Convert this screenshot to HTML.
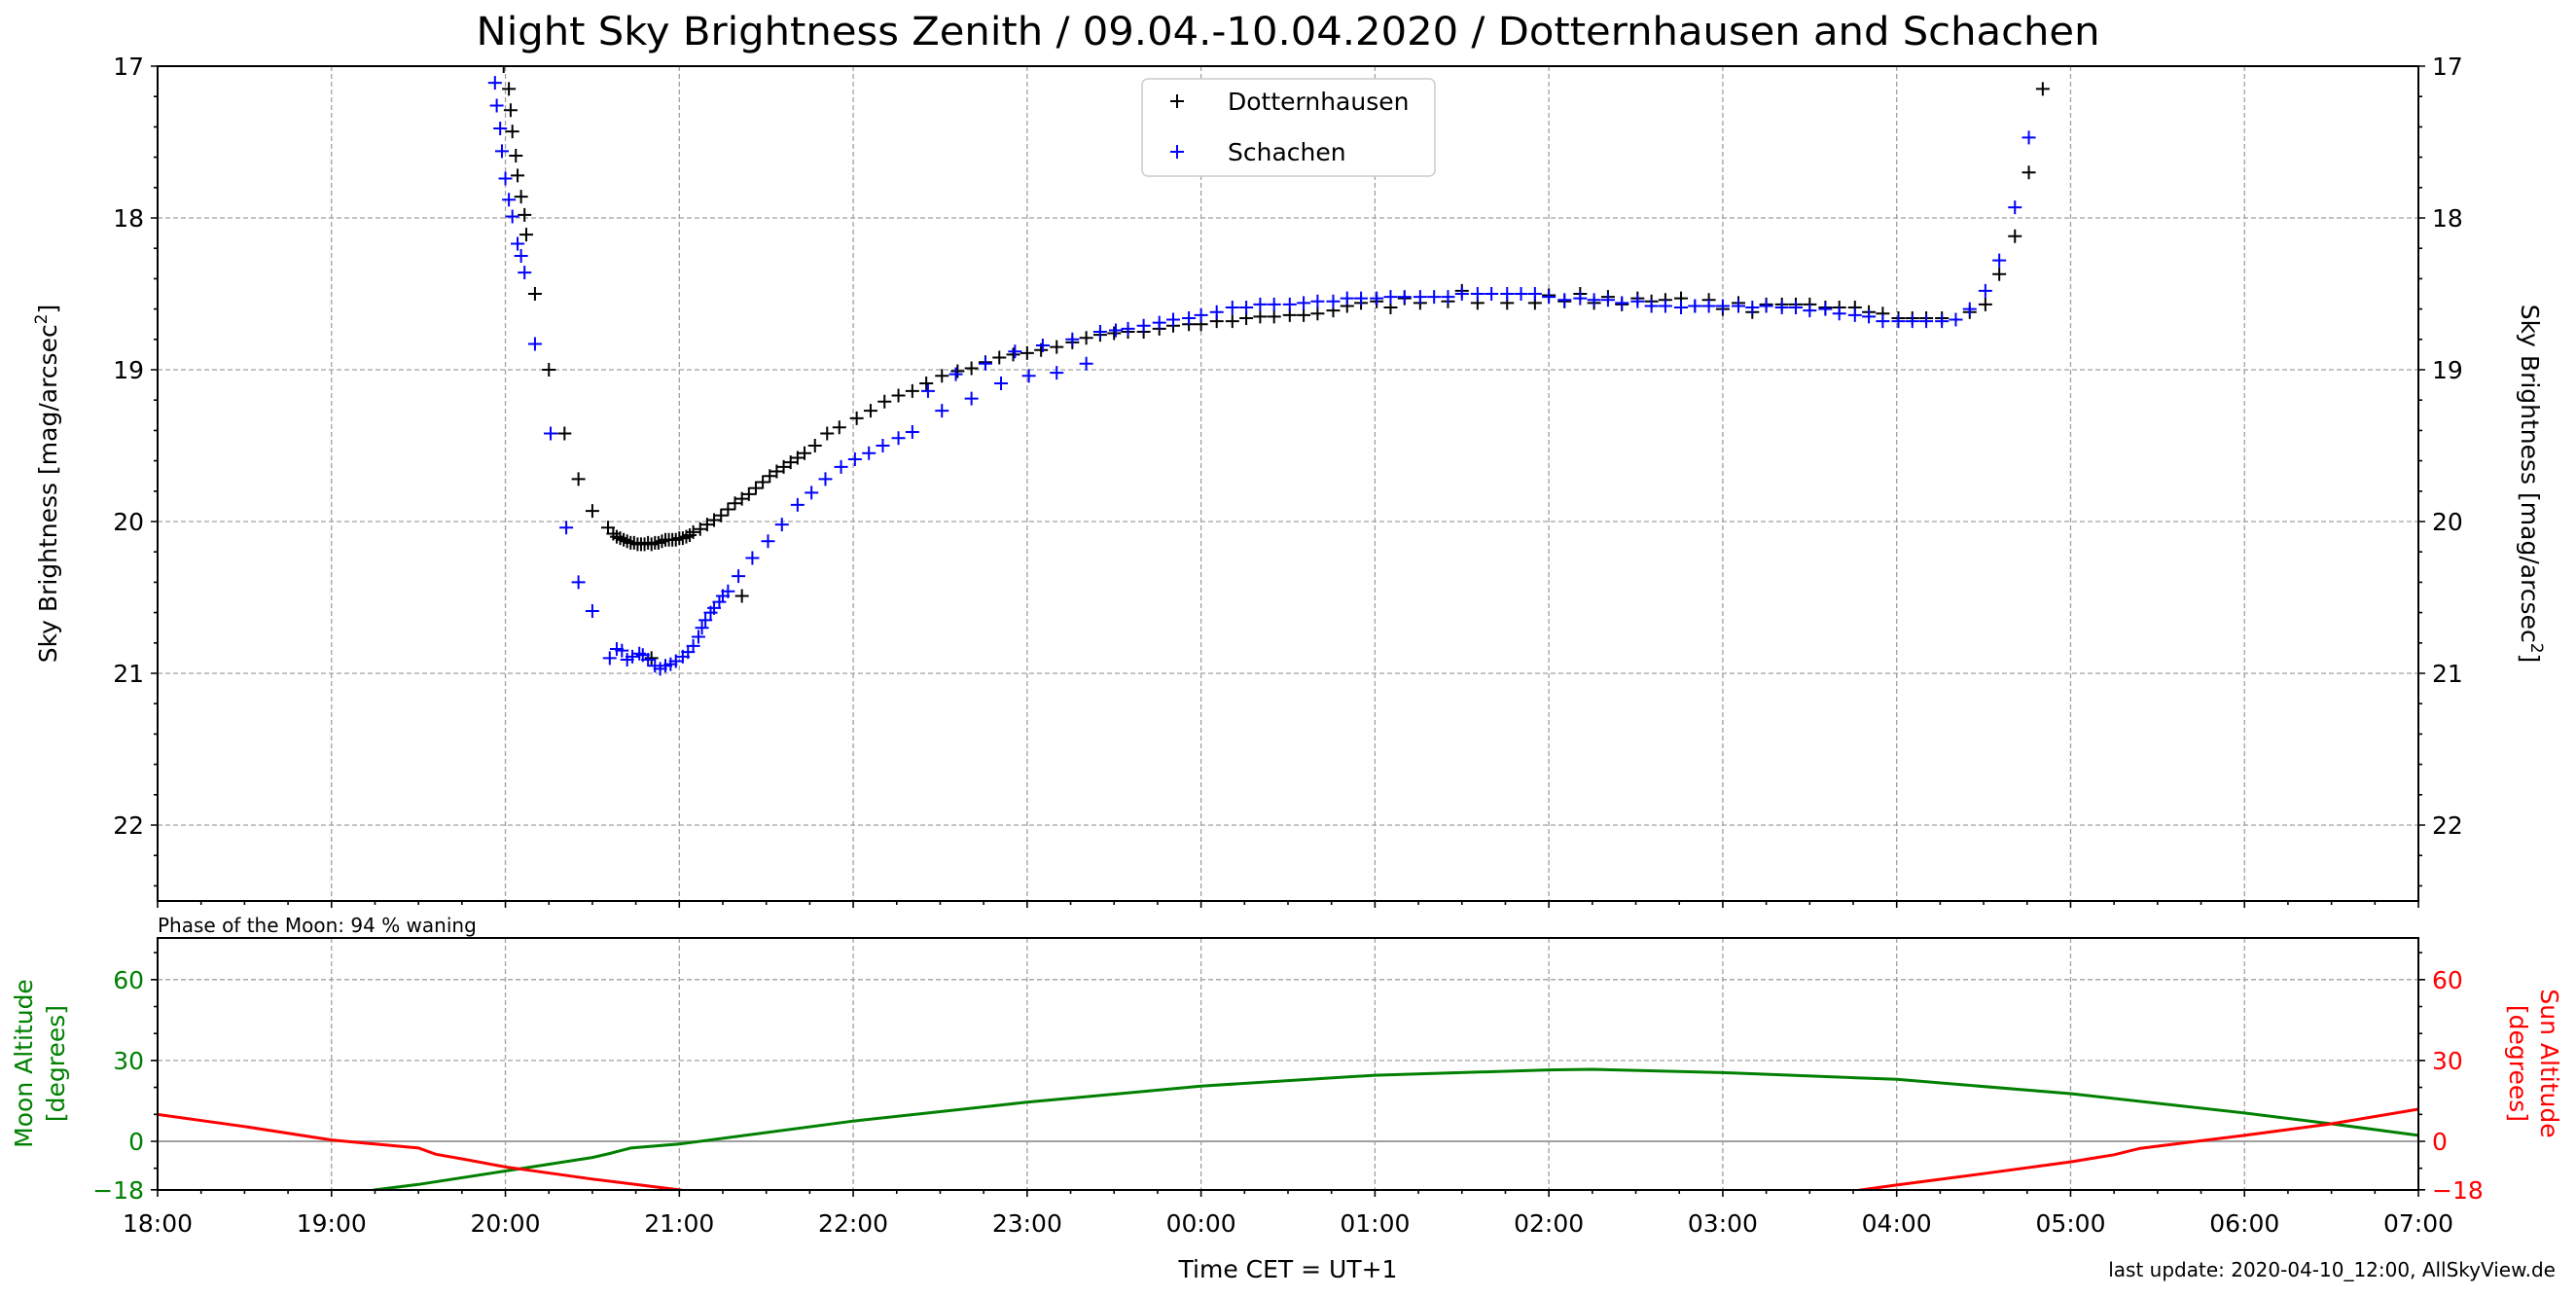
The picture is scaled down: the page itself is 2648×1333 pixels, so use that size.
<!DOCTYPE html>
<html><head><meta charset="utf-8"><title>Night Sky Brightness</title>
<style>
html,body{margin:0;padding:0;background:#fff;}
svg{display:block;font-family:"DejaVu Sans","Liberation Sans",sans-serif;}
</style></head>
<body>
<svg id="chart" xmlns="http://www.w3.org/2000/svg" width="2648" height="1333" viewBox="0 0 2648 1333">
<defs>
<clipPath id="clipTop"><rect x="162" y="68" width="2324" height="858"/></clipPath>
<clipPath id="clipBot"><rect x="162" y="964" width="2324" height="259"/></clipPath>
</defs>
<rect x="0" y="0" width="2648" height="1333" fill="#fff"/>
<text x="1324" y="46" text-anchor="middle" font-size="40" textLength="1669" lengthAdjust="spacingAndGlyphs">Night Sky Brightness Zenith / 09.04.-10.04.2020 / Dotternhausen and Schachen</text>
<g id="gridTop"></g><g id="gridBot"></g>
<g id="marksTop" clip-path="url(#clipTop)"></g>
<g id="marksBot" clip-path="url(#clipBot)"></g>
<g id="axes"></g>
<text transform="translate(58,497) rotate(-90)" text-anchor="middle" font-size="25">Sky Brightness [mag/arcsec<tspan baseline-shift="super" font-size="17">2</tspan>]</text>
<text transform="translate(2592,497) rotate(90)" text-anchor="middle" font-size="25">Sky Brightness [mag/arcsec<tspan baseline-shift="super" font-size="17">2</tspan>]</text>
<text transform="translate(33,1093) rotate(-90)" text-anchor="middle" font-size="25" fill="#008000">Moon Altitude</text>
<text transform="translate(66,1093) rotate(-90)" text-anchor="middle" font-size="25" fill="#008000">[degrees]</text>
<text transform="translate(2612,1093) rotate(90)" text-anchor="middle" font-size="25" fill="#ff0000">Sun Altitude</text>
<text transform="translate(2580,1093) rotate(90)" text-anchor="middle" font-size="25" fill="#ff0000">[degrees]</text>
<text x="162" y="958" font-size="20">Phase of the Moon: 94 % waning</text>
<text x="1324" y="1313" text-anchor="middle" font-size="25">Time CET = UT+1</text>
<text x="2627" y="1312" text-anchor="end" font-size="20">last update: 2020-04-10_12:00, AllSkyView.de</text>
<g>
<rect x="1174" y="81" width="301" height="100" rx="6" fill="#fff" stroke="#ccc" stroke-width="1.5"/>
<path d="M1203 104h14M1210 97v14" stroke="#000" stroke-width="2"/>
<text x="1262" y="113" font-size="25">Dotternhausen</text>
<path d="M1203 156h14M1210 149v14" stroke="#0000ff" stroke-width="2"/>
<text x="1262" y="165" font-size="25">Schachen</text>
</g>
</svg>
<script>
// Time in hours after 18:00
const blackT = [1.99,2.02,2.03,2.04,2.06,2.07,2.09,2.11,2.12,2.17,2.25,2.34,2.42,2.50,2.59,2.62,2.64,2.66,2.68,2.70,2.72,2.74,2.76,2.78,2.80,2.82,2.84,2.86,2.88,2.90,2.92,2.94,2.96,2.98,3.00,3.02,3.04,3.06,3.08,3.12,3.16,3.20,3.24,3.28,3.32,3.36,3.40,3.44,3.48,3.52,3.56,3.60,3.64,3.68,3.72,3.78,3.85,3.92,4.02,4.10,4.18,4.26,4.34,4.42,4.51,4.60,4.68,4.76,4.84,4.92,5.00,5.08,5.17,5.26,5.34,5.42,5.50,5.58,5.67,5.76,5.84,5.93,6.00,6.09,6.18,6.26,6.34,6.42,6.51,6.59,6.67,6.76,6.84,6.92,7.01,7.09,7.17,7.26,7.42,7.50,7.59,7.76,7.92,8.00,8.09,8.18,8.26,8.34,8.42,8.51,8.59,8.67,8.76,8.84,8.92,9.00,9.09,9.17,9.25,9.34,9.42,9.50,9.59,9.67,9.76,9.84,9.92,10.01,10.09,10.17,10.26,10.42,10.51,10.59,10.68,10.76,10.84,3.36,2.84];
const blackM = [17.00,17.15,17.29,17.43,17.59,17.72,17.86,17.98,18.11,18.50,19.00,19.42,19.72,19.93,20.04,20.08,20.10,20.11,20.12,20.13,20.14,20.14,20.15,20.15,20.15,20.14,20.15,20.14,20.14,20.13,20.12,20.12,20.12,20.12,20.11,20.11,20.10,20.09,20.07,20.05,20.02,19.99,19.96,19.92,19.88,19.85,19.82,19.78,19.74,19.70,19.67,19.64,19.61,19.58,19.55,19.50,19.42,19.38,19.32,19.27,19.21,19.17,19.14,19.09,19.04,19.01,18.99,18.95,18.92,18.90,18.89,18.87,18.85,18.82,18.79,18.77,18.76,18.75,18.75,18.73,18.71,18.70,18.70,18.68,18.68,18.66,18.65,18.65,18.64,18.64,18.63,18.61,18.58,18.56,18.55,18.59,18.53,18.56,18.55,18.48,18.56,18.56,18.56,18.51,18.55,18.50,18.56,18.52,18.57,18.53,18.55,18.54,18.53,18.58,18.54,18.60,18.56,18.62,18.57,18.57,18.57,18.57,18.59,18.59,18.59,18.62,18.63,18.66,18.66,18.66,18.66,18.62,18.57,18.37,18.12,17.70,17.15,20.49,20.90];
const blueT = [1.94,1.95,1.97,1.98,2.00,2.02,2.04,2.07,2.09,2.11,2.17,2.26,2.35,2.42,2.50,2.60,2.64,2.67,2.70,2.73,2.77,2.79,2.82,2.86,2.89,2.92,2.95,2.98,3.02,3.05,3.08,3.11,3.13,3.15,3.18,3.20,3.23,3.25,3.28,3.34,3.42,3.51,3.59,3.68,3.76,3.84,3.93,4.01,4.09,4.17,4.26,4.34,4.43,4.51,4.59,4.68,4.76,4.85,4.93,5.01,5.09,5.17,5.26,5.34,5.42,5.51,5.58,5.67,5.76,5.84,5.93,6.00,6.09,6.18,6.26,6.34,6.42,6.51,6.59,6.67,6.76,6.84,6.92,7.01,7.09,7.17,7.26,7.34,7.42,7.50,7.59,7.67,7.76,7.84,7.92,8.00,8.09,8.18,8.26,8.34,8.42,8.51,8.59,8.67,8.76,8.84,8.92,9.00,9.09,9.17,9.25,9.34,9.42,9.50,9.59,9.67,9.76,9.84,9.92,10.01,10.09,10.17,10.26,10.34,10.42,10.51,10.59,10.68,10.76];
const blueM = [17.11,17.26,17.41,17.56,17.74,17.88,17.99,18.17,18.25,18.36,18.83,19.42,20.04,20.40,20.59,20.90,20.84,20.85,20.91,20.89,20.87,20.88,20.91,20.95,20.97,20.95,20.94,20.92,20.89,20.86,20.82,20.76,20.70,20.65,20.60,20.57,20.53,20.49,20.46,20.36,20.24,20.13,20.02,19.89,19.81,19.72,19.64,19.59,19.55,19.50,19.45,19.41,19.14,19.27,19.03,19.19,18.96,19.09,18.88,19.04,18.84,19.02,18.80,18.96,18.75,18.74,18.73,18.71,18.69,18.67,18.66,18.64,18.62,18.59,18.59,18.57,18.57,18.57,18.56,18.55,18.55,18.53,18.53,18.53,18.52,18.52,18.52,18.52,18.52,18.50,18.50,18.50,18.50,18.50,18.50,18.52,18.54,18.53,18.54,18.54,18.56,18.55,18.58,18.58,18.59,18.58,18.58,18.58,18.58,18.59,18.58,18.59,18.59,18.61,18.60,18.63,18.64,18.65,18.68,18.68,18.68,18.68,18.68,18.67,18.60,18.48,18.28,17.93,17.47];
const sunT = [0,0.5,1.0,1.25,1.5,1.6,1.75,2.0,2.5,3.0,3.5,5.0,7.0,8.5,9.8,10.0,10.5,11.0,11.25,11.4,11.5,12.0,12.5,13.0];
const sunAlt = [10,5.5,0.5,-1,-2.5,-4.8,-6.5,-9.5,-14,-18,-23,-32,-36,-30,-18,-16.2,-12,-7.6,-5,-2.6,-1.8,2.2,6.5,11.9];
const moonT = [0.5,1.25,1.5,2.0,2.5,2.6,2.72,3.0,4.0,5.0,6.0,7.0,8.0,8.25,9.0,10.0,11.0,12.0,12.5,13.0];
const moonAlt = [-30,-18,-16,-11,-6,-4.5,-2.5,-1,7.5,14.5,20.5,24.5,26.5,26.7,25.5,23,17.7,10.5,6.5,2.2];
const xTickLabels = ["18:00","19:00","20:00","21:00","22:00","23:00","00:00","01:00","02:00","03:00","04:00","05:00","06:00","07:00"];
const magTicks = [17,18,19,20,21,22];
const altTicks = [-18,0,30,60];

const NS = "http://www.w3.org/2000/svg";
const X0 = 162, X1 = 2486, TT = 68, TB = 926, BT = 964, BB = 1223;
function xs(h){ return X0 + h * (X1 - X0) / 13; }
function ym(m){ return TT + (m - 17) * (TB - TT) / 5.5; }
function ya(d){ return 1173 - d * 2.77; }
function mk(tag, attrs, parent){
  const e = document.createElementNS(NS, tag);
  for (const k in attrs) e.setAttribute(k, attrs[k]);
  parent.appendChild(e);
  return e;
}
const gT = document.getElementById('gridTop');
const gB = document.getElementById('gridBot');
const mT = document.getElementById('marksTop');
const mB = document.getElementById('marksBot');
const ax = document.getElementById('axes');

// grid
for (let i = 1; i < 13; i++) {
  const x = xs(i);
  const l1 = mk('line', {x1:x, x2:x, y1:TT, y2:TB, stroke:'#a0a0a0', 'stroke-width':1.3, 'stroke-dasharray':'5,3'}, gT);
  
  
  const l2 = mk('line', {x1:x, x2:x, y1:BT, y2:BB, stroke:'#a0a0a0', 'stroke-width':1.3, 'stroke-dasharray':'5,3'}, gB);
  
  
}
magTicks.forEach(m => {
  const y = ym(m);
  if (m > 17) {
    const l = mk('line', {x1:X0, x2:X1, y1:y, y2:y, stroke:'#a0a0a0', 'stroke-width':1.3, 'stroke-dasharray':'5,3'}, gT);
    
    
  }
  const t1 = mk('text', {x:X0 - 14, y:y + 9, 'text-anchor':'end', 'font-size':25}, ax);
  t1.textContent = m;
  
  
  const t2 = mk('text', {x:X1 + 14, y:y + 9, 'text-anchor':'start', 'font-size':25}, ax);
  t2.textContent = m;
  
  
});
altTicks.forEach(d => {
  const y = ya(d);
  if (d > -18) {
    const l = mk('line', {x1:X0, x2:X1, y1:y, y2:y, stroke:'#a0a0a0', 'stroke-width':d === 0 ? 2 : 1.3, 'stroke-dasharray':d === 0 ? 'none' : '5,3'}, gB);
    
    
  }
  const t1 = mk('text', {x:X0 - 14, y:y + 9, 'text-anchor':'end', 'font-size':25, fill:'#008000'}, ax);
  t1.textContent = d < 0 ? '\u2212' + (-d) : d;
  
  
  const t2 = mk('text', {x:X1 + 14, y:y + 9, 'text-anchor':'start', 'font-size':25, fill:'#ff0000'}, ax);
  t2.textContent = d < 0 ? '\u2212' + (-d) : d;
  
  
});

// markers
function plus(t, m, color, name){
  const x = xs(t), y = ym(m);
  const p = mk('path', {d:`M${x-7} ${y}h14M${x} ${y-7}v14`, stroke:color, 'stroke-width':2, fill:'none'}, mT);
  
  
}
blackT.forEach((t, i) => plus(t, blackM[i], '#000', 'dotternhausen-point'));
blueT.forEach((t, i) => plus(t, blueM[i], '#0000ff', 'schachen-point'));

// sun & moon lines
function linePath(ts, vs){ return ts.map((t, i) => (i ? 'L' : 'M') + xs(t).toFixed(1) + ' ' + ya(vs[i]).toFixed(1)).join(''); }
const moon = mk('path', {d:linePath(moonT, moonAlt), stroke:'#008000', 'stroke-width':3, fill:'none'}, mB);


const sun = mk('path', {d:linePath(sunT, sunAlt), stroke:'#ff0000', 'stroke-width':3, fill:'none'}, mB);



// frames
const f1 = mk('rect', {x:X0, y:TT, width:X1 - X0, height:TB - TT, fill:'none', stroke:'#000', 'stroke-width':2}, ax);


const f2 = mk('rect', {x:X0, y:BT, width:X1 - X0, height:BB - BT, fill:'none', stroke:'#000', 'stroke-width':2}, ax);



// ticks
let tk = '';
for (let q = 0; q <= 52; q++) {
  const x = xs(q / 4), len = q % 4 === 0 ? 7 : 4;
  tk += `M${x} ${TB}v${len}M${x} ${BB}v${len}`;
}
for (let m = 17; m <= 22.41; m += 0.2) {
  const y = ym(m), major = Math.abs(m - Math.round(m)) < 0.01;
  const len = major ? 7 : 4;
  tk += `M${X0} ${y}h${-len}M${X1} ${y}h${len}`;
}
for (let d = -10; d <= 70; d += 10) {
  const y = ya(d);
  tk += `M${X0} ${y}h-4M${X1} ${y}h4`;
}
altTicks.forEach(d => { const y = ya(d); tk += `M${X0} ${y}h-7M${X1} ${y}h7`; });
const ticks = mk('path', {d:tk, stroke:'#000', 'stroke-width':1.6, fill:'none'}, ax);



xTickLabels.forEach((lab, i) => {
  const t = mk('text', {x:xs(i), y:1266, 'text-anchor':'middle', 'font-size':25}, ax);
  t.textContent = lab;
  
  
});
</script>
</body></html>
